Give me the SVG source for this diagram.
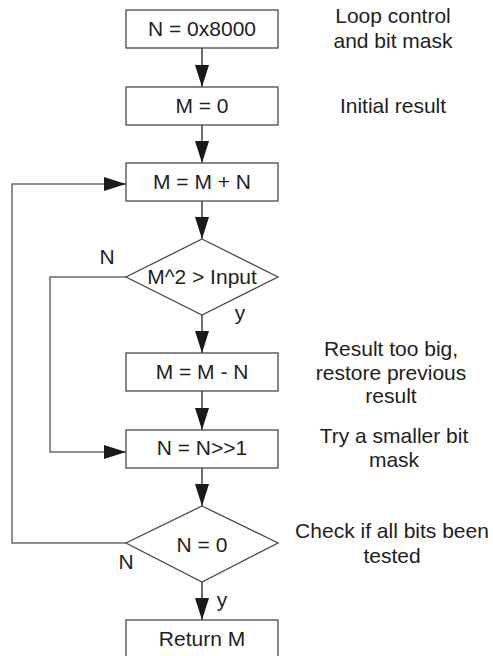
<svg xmlns="http://www.w3.org/2000/svg" width="493" height="656" viewBox="0 0 493 656">
<defs>
<style>
.box{fill:#fff;stroke:#4a4a4a;stroke-width:1.3}
.t{font-family:"Liberation Sans",Arial,sans-serif;font-size:21px;fill:#1e1e1e;text-anchor:middle}
.c{fill:none;stroke:#222;stroke-width:1.3}
.g{fill:none;stroke:#6a6a6a;stroke-width:1.5}
</style>
<marker id="ah" viewBox="0 0 22 14" refX="22" refY="7" markerWidth="22" markerHeight="14" markerUnits="userSpaceOnUse" orient="auto">
<path d="M0,0 L22,7 L0,14 Z" fill="#1a1a1a"/>
</marker>
</defs>
<rect width="493" height="656" fill="#fff"/>
<g id="connectors">
<line class="c" x1="202" y1="48" x2="202" y2="87" marker-end="url(#ah)"/>
<line class="c" x1="202" y1="125" x2="202" y2="163" marker-end="url(#ah)"/>
<line class="c" x1="202" y1="201" x2="202" y2="239" marker-end="url(#ah)"/>
<line class="c" x1="202" y1="315" x2="202" y2="353" marker-end="url(#ah)"/>
<line class="c" x1="202" y1="391" x2="202" y2="430" marker-end="url(#ah)"/>
<line class="c" x1="202" y1="468" x2="202" y2="506" marker-end="url(#ah)"/>
<line class="c" x1="202" y1="582" x2="202" y2="620" marker-end="url(#ah)"/>
<polyline class="g" points="126,277 50,277 50,452 126,452" marker-end="url(#ah)"/>
<polyline class="g" points="126,543 12,543 12,184 126,184" marker-end="url(#ah)"/>
<text class="t" x="107" y="264">N</text>
<text class="t" x="240" y="320">y</text>
<text class="t" x="126" y="569">N</text>
<text class="t" x="222" y="607">y</text>
</g>
<g id="n1"><rect class="box" x="126" y="10" width="152" height="38"/><text class="t" x="202" y="36">N = 0x8000</text></g>
<g id="n2"><rect class="box" x="126" y="87" width="152" height="38"/><text class="t" x="202" y="113">M = 0</text></g>
<g id="n3"><rect class="box" x="126" y="163" width="152" height="38"/><text class="t" x="202" y="189">M = M + N</text></g>
<g id="n4"><polygon class="box" points="202,239 278,277 202,315 126,277"/><text class="t" x="202" y="284">M^2 &gt; Input</text></g>
<g id="n5"><rect class="box" x="126" y="353" width="152" height="38"/><text class="t" x="202" y="379">M = M - N</text></g>
<g id="n6"><rect class="box" x="126" y="430" width="152" height="38"/><text class="t" x="202" y="455">N = N&gt;&gt;1</text></g>
<g id="n7"><polygon class="box" points="202,506 278,543 202,582 126,543"/><text class="t" x="202" y="552">N = 0</text></g>
<g id="n8"><rect class="box" x="126" y="620" width="152" height="40"/><text class="t" x="202" y="646">Return M</text></g>
<g id="notes">
<text class="t" x="393" y="23">Loop control</text>
<text class="t" x="393" y="48">and bit mask</text>
<text class="t" x="393" y="113">Initial result</text>
<text class="t" x="391" y="356">Result too big,</text>
<text class="t" x="391" y="380">restore previous</text>
<text class="t" x="391" y="403">result</text>
<text class="t" x="394" y="443">Try a smaller bit</text>
<text class="t" x="394" y="467">mask</text>
<text class="t" x="392" y="538">Check if all bits been</text>
<text class="t" x="392" y="563">tested</text>
</g>
</svg>
